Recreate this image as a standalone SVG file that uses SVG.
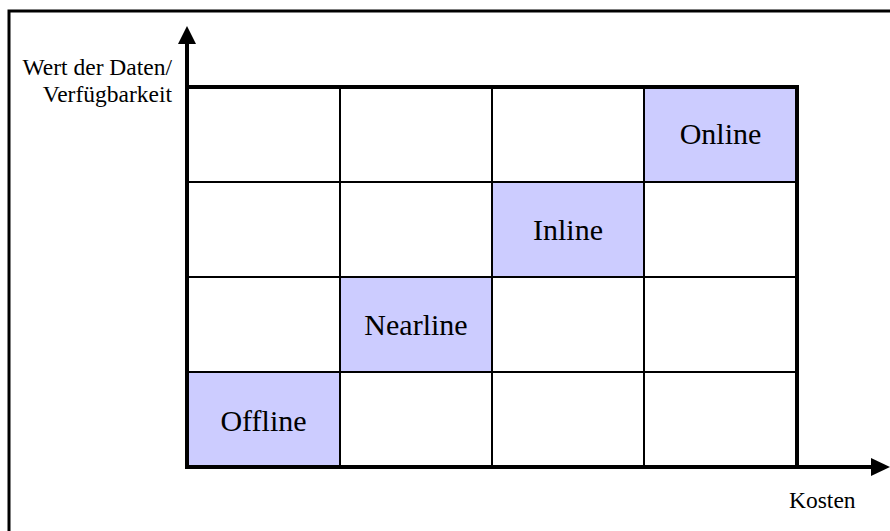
<svg xmlns="http://www.w3.org/2000/svg" width="890" height="531" viewBox="0 0 890 531">
<style>
.hl{fill:#CCCCFF;stroke:none}
.thin{stroke:#000;stroke-width:2;fill:none}
.thick{stroke:#000;stroke-width:4;fill:none}
.lbl{font-family:"Liberation Serif","Times New Roman",serif;font-size:30px;fill:#000;text-anchor:middle}
.ax{font-family:"Liberation Serif","Times New Roman",serif;font-size:23.5px;fill:#000}
</style>
<rect width="890" height="531" fill="#fff"/>
<path d="M9,531 V11 H890" stroke="#000" stroke-width="3" fill="none"/>
<g id="cells">
<g id="offline"><rect class="hl" x="187" y="372" width="153" height="95"/><text class="lbl" x="263.5" y="431">Offline</text></g>
<g id="nearline"><rect class="hl" x="340" y="277" width="152" height="95"/><text class="lbl" x="416" y="335">Nearline</text></g>
<g id="inline"><rect class="hl" x="492" y="182" width="152" height="95"/><text class="lbl" x="568" y="240">Inline</text></g>
<g id="online"><rect class="hl" x="644" y="87" width="153" height="95"/><text class="lbl" x="720.5" y="144">Online</text></g>
</g>
<g id="grid">
<path class="thin" d="M340,87 V467 M492,87 V467 M644,87 V467 M187,182 H797 M187,277 H797 M187,372 H797"/>
<path class="thick" d="M187,87 H797 V467"/>
</g>
<g id="axes">
<path class="thick" d="M187,469 V40 M185,467 H874"/>
<polygon points="187,26 178,44 196,44" fill="#000"/>
<polygon points="890,467 871,458 871,476" fill="#000"/>
<text class="ax" x="172" y="75" text-anchor="end">Wert der Daten/</text>
<text class="ax" x="172" y="102" text-anchor="end">Verfügbarkeit</text>
<text class="ax" x="789" y="508" font-size="24">Kosten</text>
</g>
</svg>
